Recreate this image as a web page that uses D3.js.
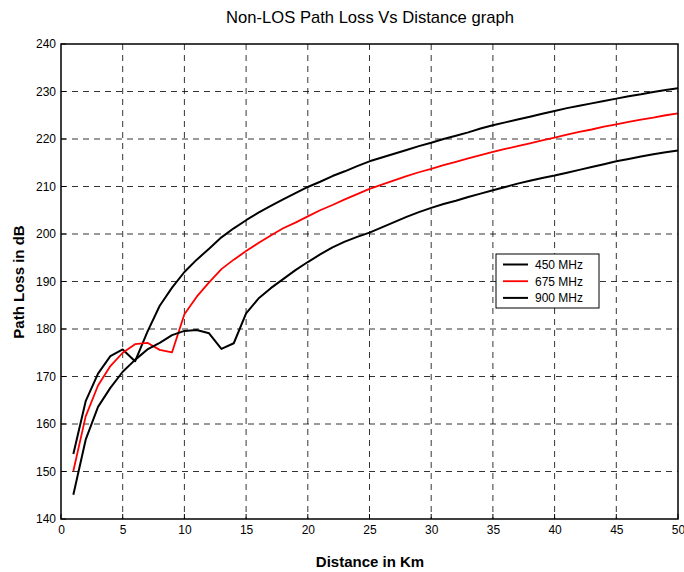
<!DOCTYPE html>
<html><head><meta charset="utf-8">
<script src="https://cdn.jsdelivr.net/npm/d3@7"></script>
<style>
body{margin:0;background:#fff;}
text{font-family:"Liberation Sans",Arial,sans-serif;}
</style></head>
<body><svg id="c" width="684" height="572"></svg>
<script>
const distance = d3.range(1, 51);
const loss450 = [153.7,164.8,170.6,174.3,175.7,173.2,179.4,184.9,188.7,192.0,194.6,196.9,199.3,201.2,202.9,204.5,205.9,207.3,208.6,209.9,211.0,212.2,213.2,214.3,215.3,216.1,216.9,217.7,218.5,219.2,220.0,220.7,221.4,222.2,222.9,223.5,224.1,224.7,225.3,225.9,226.5,227.0,227.5,228.0,228.5,229.0,229.4,229.9,230.3,230.7];
const loss675 = [150.1,161.6,168.1,172.2,175.0,176.8,177.1,175.6,175.1,183.1,186.8,189.8,192.6,194.6,196.4,198.1,199.7,201.2,202.4,203.7,205.0,206.1,207.3,208.4,209.5,210.4,211.3,212.2,213.0,213.7,214.5,215.2,215.9,216.6,217.3,217.9,218.5,219.1,219.7,220.3,220.9,221.5,222.0,222.6,223.1,223.6,224.1,224.5,225.0,225.4];
const loss900 = [145.1,156.7,163.6,167.6,171.0,173.5,175.7,177.1,178.7,179.6,179.8,179.1,175.8,177.0,183.3,186.4,188.6,190.5,192.4,194.1,195.7,197.2,198.4,199.4,200.3,201.4,202.5,203.6,204.6,205.5,206.3,207.0,207.8,208.5,209.2,209.9,210.6,211.2,211.8,212.3,212.9,213.5,214.1,214.7,215.3,215.8,216.3,216.8,217.2,217.6];
const xTicks = [0,5,10,15,20,25,30,35,40,45,50];
const yTicks = [140,150,160,170,180,190,200,210,220,230,240];
const seriesNames = ["450 MHz","675 MHz","900 MHz"];
const seriesColors = ["#000000","#ff0000","#000000"];
const seriesData = [loss450, loss675, loss900];

const svg = d3.select("#c");
const L=61, R=678, T=44, B=519;
const x = d3.scaleLinear().domain([0,50]).range([L,R]);
const y = d3.scaleLinear().domain([140,240]).range([B,T]);

// grid
const g = svg.append("g");
g.selectAll(".vg").data(xTicks.slice(1,-1)).enter().append("line")
  .attr("x1",d=>x(d)).attr("x2",d=>x(d)).attr("y1",T).attr("y2",B)
  .attr("stroke","#000").attr("stroke-width",0.8).attr("stroke-dasharray","6,5");
g.selectAll(".hg").data(yTicks.slice(1,-1)).enter().append("line")
  .attr("y1",d=>y(d)).attr("y2",d=>y(d)).attr("x1",L).attr("x2",R)
  .attr("stroke","#000").attr("stroke-width",0.8).attr("stroke-dasharray","6,5");

// axes
const xa = svg.append("g").attr("transform",`translate(0,${B})`)
  .call(d3.axisBottom(x).tickValues(xTicks).tickSize(0).tickPadding(6));
const ya = svg.append("g").attr("transform",`translate(${L},0)`)
  .call(d3.axisLeft(y).tickValues(yTicks).tickSize(0).tickPadding(5));
[xa,ya].forEach(a=>{a.select(".domain").remove();a.selectAll("text").attr("font-size",12).attr("fill","#000").style("font-family","'Liberation Sans',Arial,sans-serif");});
// tick marks inward
svg.append("g").selectAll("line").data(xTicks).enter().append("line")
  .attr("x1",d=>x(d)).attr("x2",d=>x(d)).attr("y1",B).attr("y2",B-5).attr("stroke","#000");
svg.append("g").selectAll("line").data(yTicks).enter().append("line")
  .attr("x1",L).attr("x2",L+5).attr("y1",d=>y(d)).attr("y2",d=>y(d)).attr("stroke","#000");

// lines
const line = d3.line().x((d,i)=>x(distance[i])).y(d=>y(d));
seriesData.forEach((s,k)=>{
  svg.append("path").datum(s).attr("d",line).attr("fill","none")
    .attr("stroke",seriesColors[k]).attr("stroke-width",k===1?1.8:2).attr("stroke-linejoin","round");
});

// frame
svg.append("rect").attr("x",L).attr("y",T).attr("width",R-L).attr("height",B-T)
  .attr("fill","none").attr("stroke","#000").attr("stroke-width",1.5);

// legend
const lg = svg.append("g");
lg.append("rect").attr("x",496).attr("y",254).attr("width",103).attr("height",54)
  .attr("fill","#fff").attr("stroke","#000").attr("stroke-width",1);
seriesNames.forEach((n,i)=>{
  const yy = 264.5 + i*16.7;
  lg.append("line").attr("x1",503).attr("x2",528).attr("y1",yy).attr("y2",yy)
    .attr("stroke",seriesColors[i]).attr("stroke-width",i===1?1.8:2);
  lg.append("text").attr("x",535).attr("y",yy+4.3).attr("font-size",12).text(n);
});

// titles
svg.append("text").attr("x",370).attr("y",23).attr("text-anchor","middle")
  .attr("font-size",16.6).text("Non-LOS Path Loss Vs Distance graph");
svg.append("text").attr("x",370).attr("y",567).attr("text-anchor","middle")
  .attr("font-size",15).attr("font-weight","bold").text("Distance in Km");
svg.append("text").attr("transform","translate(24,282) rotate(-90)").attr("text-anchor","middle")
  .attr("font-size",15).attr("font-weight","bold").text("Path Loss in dB");
</script></body></html>
